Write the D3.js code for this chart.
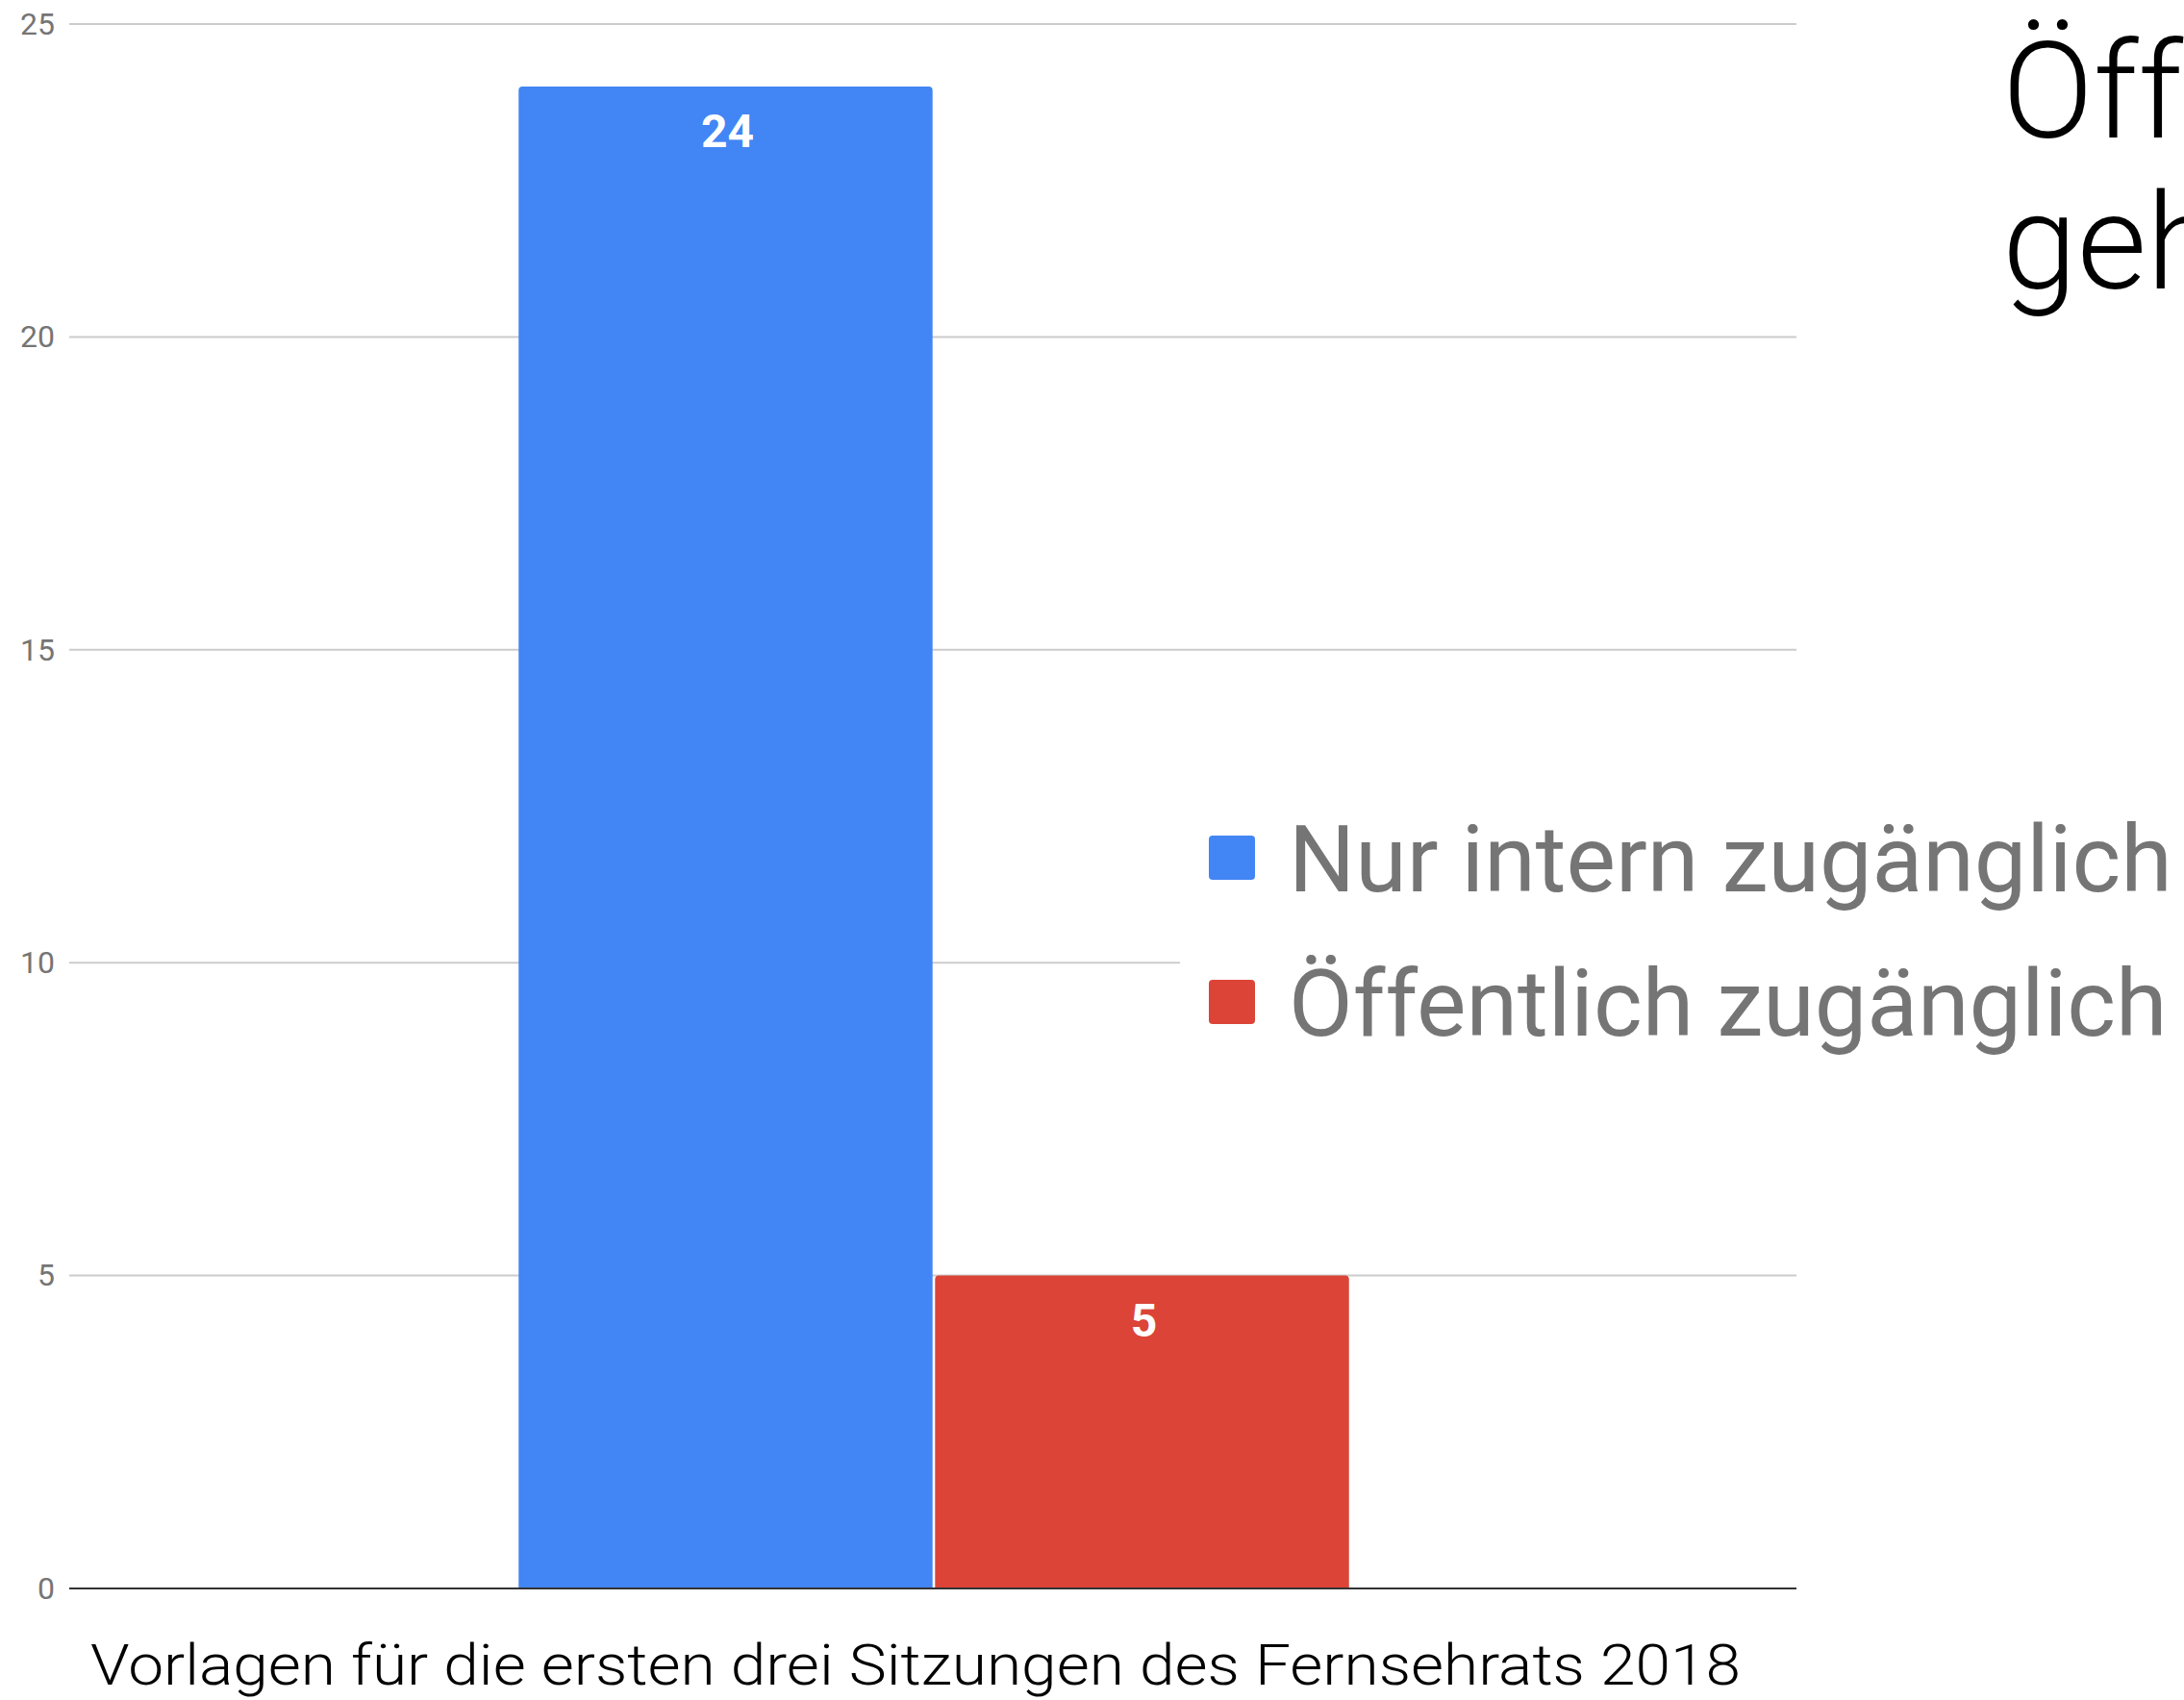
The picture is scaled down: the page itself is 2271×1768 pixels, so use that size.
<!DOCTYPE html>
<html>
<head>
<meta charset="utf-8">
<script src="https://cdn.jsdelivr.net/npm/d3@7"></script>
<style>
  body { margin: 0; background: #fff; overflow: hidden; }
  svg { display: block; }
</style>
</head>
<body>
<div id="chart"></div>
<script>
// Data
const categories = ["Vorlagen für die ersten drei Sitzungen des Fernsehrats 2018"];
const seriesNames = ["Nur intern zugänglich", "Öffentlich zugänglich"];
const seriesValues = [24, 5];
const seriesColors = ["#4285f4", "#db4437"];
const yTicks = [0, 5, 10, 15, 20, 25];
const titleLines = ["Öffentlich oder", "geheim?"];

const width = 2271;
const height = 1768;
const margin = { top: 25, right: 403, bottom: 116, left: 72 };

const svg = d3.select("#chart")
  .append("svg")
  .attr("width", width)
  .attr("height", height);

// Scales
const yScale = d3.scaleLinear()
  .domain([0, 25])
  .range([height - margin.bottom, margin.top]);

const xScale = d3.scaleBand()
  .domain(categories)
  .range([margin.left, width - margin.right])
  .paddingInner(0)
  .paddingOuter(0.54);

const subScale = d3.scaleBand()
  .domain(seriesNames)
  .range([0, xScale.bandwidth()])
  .paddingInner(0.006);

// Gridlines
svg.append("g")
  .attr("class", "grid")
  .selectAll("line")
  .data(yTicks.filter(d => d > 0))
  .join("line")
  .attr("x1", margin.left)
  .attr("x2", width - margin.right)
  .attr("y1", d => yScale(d))
  .attr("y2", d => yScale(d))
  .attr("stroke", "#cccccc")
  .attr("stroke-width", 2);

// Y axis labels
const yAxis = d3.axisLeft(yScale).tickValues(yTicks).tickSize(0).tickPadding(15);
svg.append("g")
  .attr("transform", "translate(" + margin.left + ",0)")
  .call(yAxis)
  .call(g => g.select(".domain").remove())
  .call(g => g.selectAll("text")
    .attr("font-family", "Roboto")
    .attr("font-size", 32)
    .attr("fill", "#757575"));

// Bars
const group = svg.append("g")
  .selectAll("g")
  .data(categories)
  .join("g")
  .attr("transform", d => "translate(" + (xScale(d) + 1) + ",0)");

const bars = seriesNames.map((name, i) => ({ name: name, value: seriesValues[i], color: seriesColors[i] }));

group.selectAll("path")
  .data(bars)
  .join("path")
  .attr("fill", d => d.color)
  .attr("d", d => {
    const x0 = subScale(d.name), x1 = x0 + subScale.bandwidth();
    const y0 = yScale(d.value), y1 = yScale(0);
    const r = 4;
    return "M" + x0 + "," + y1 + "V" + (y0 + r) + "Q" + x0 + "," + y0 + " " + (x0 + r) + "," + y0 +
      "H" + (x1 - r) + "Q" + x1 + "," + y0 + " " + x1 + "," + (y0 + r) + "V" + y1 + "Z";
  });

group.selectAll("text")
  .data(bars)
  .join("text")
  .text(d => d.value)
  .attr("x", d => subScale(d.name) + subScale.bandwidth() / 2 + 2)
  .attr("y", d => yScale(d.value) + 63)
  .attr("text-anchor", "middle")
  .attr("font-family", "Roboto")
  .attr("font-weight", "bold")
  .attr("font-size", 48)
  .attr("fill", "#ffffff");

// Baseline
svg.append("line")
  .attr("x1", margin.left)
  .attr("x2", width - margin.right)
  .attr("y1", yScale(0))
  .attr("y2", yScale(0))
  .attr("stroke", "#333333")
  .attr("stroke-width", 2);

// X axis title
svg.append("text")
  .text(categories[0])
  .attr("x", 94)
  .attr("y", 1752)
  .attr("font-family", "Roboto")
  .attr("font-weight", 300)
  .attr("font-size", 60)
  .attr("textLength", 1716)
  .attr("lengthAdjust", "spacingAndGlyphs")
  .attr("fill", "#000000");

// Legend with white background
svg.append("rect")
  .attr("x", 1227)
  .attr("y", 820)
  .attr("width", width - 1227)
  .attr("height", 300)
  .attr("fill", "#ffffff");

const legend = svg.selectAll(".legend")
  .data(bars)
  .join("g")
  .attr("class", "legend")
  .attr("transform", (d, i) => "translate(1257," + (869 + i * 150) + ")");

legend.append("rect")
  .attr("width", 48)
  .attr("height", 46)
  .attr("rx", 4)
  .attr("fill", d => d.color);

legend.append("text")
  .text(d => d.name)
  .attr("x", 83)
  .attr("y", 58)
  .attr("font-family", "Roboto")
  .attr("font-size", 97)
  .attr("fill", "#757575");

// Title (cut at the right edge, as in the original)
svg.append("g")
  .selectAll("text")
  .data(titleLines)
  .join("text")
  .text(d => d)
  .attr("x", 2082)
  .attr("y", (d, i) => 143 + i * 157)
  .attr("font-family", "Roboto")
  .attr("font-weight", 300)
  .attr("font-size", 140)
  .attr("fill", "#000000");
</script>
</body>
</html>
